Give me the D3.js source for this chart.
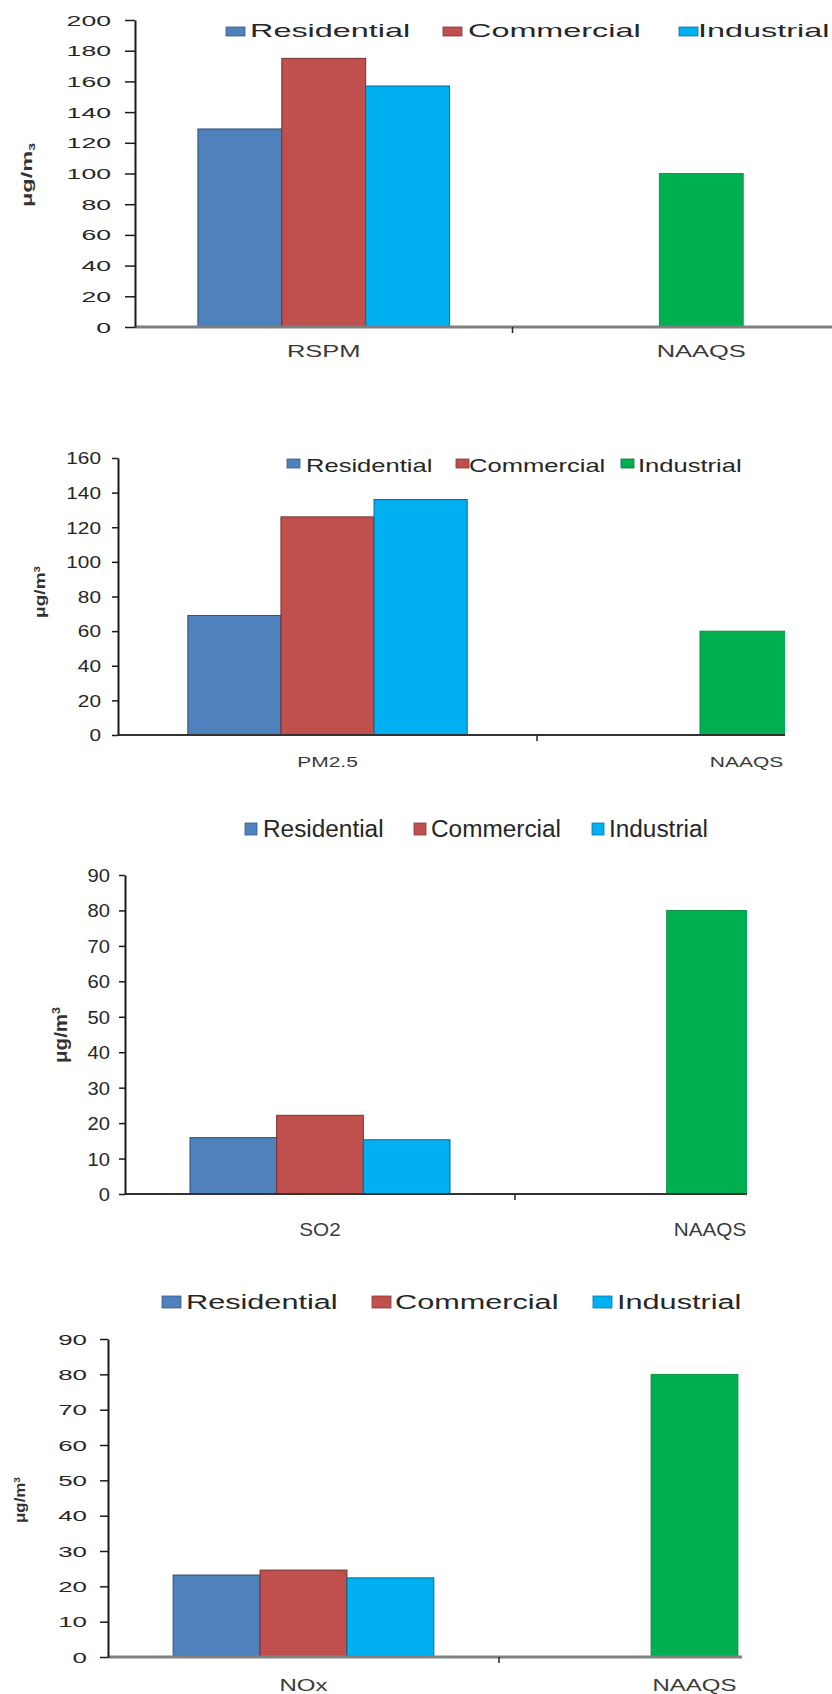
<!DOCTYPE html>
<html>
<head>
<meta charset="utf-8">
<script src="https://cdn.jsdelivr.net/npm/d3@7"></script>
<style>
  html, body { margin: 0; padding: 0; background: #fff; }
  svg { display: block; }
  text { font-family: "Liberation Sans", Arial, sans-serif; }
</style>
</head>
<body>
<svg id="chart" width="832" height="1694"></svg>
<script>
// ---------------- DATA ----------------
const series = ["Residential", "Commercial", "Industrial"];
const pollutants = ["RSPM", "PM2.5", "SO2", "NOx"];
const standardLabel = "NAAQS";
const residential = [129, 69, 15.9, 23.2];
const commercial  = [175, 126, 22.2, 24.6];
const industrial  = [157, 136, 15.3, 22.4];
const naaqs       = [100, 60, 80, 80];
const yMax  = [200, 160, 90, 90];
const yStep = [20, 20, 10, 10];
const unitBase = "μg/m";
const unitExp = "3";
const unitExpPos = ["sub", "sup", "sup", "sup"];

// ---------------- STYLE / LAYOUT ----------------
const seriesColors = ["#4f81bd", "#c0504d", "#00b0f0"];
const naaqsColor = "#00b050";
// legend swatch colours per chart (chart 2 shows a green Industrial swatch)
const legendSwatches = [
  ["#4f81bd", "#c0504d", "#00b0f0"],
  ["#4f81bd", "#c0504d", "#00b050"],
  ["#4f81bd", "#c0504d", "#00b0f0"],
  ["#4f81bd", "#c0504d", "#00b0f0"]
];

const layouts = [
  { axisX: 135, divider: 512.5, y0: 327, yTop: 20, clipRight: 832,
    tickLen: 10, tickFont: 14, tickSx: 1.9, tickRight: 111,
    baseColor: "#7f7f7f", baseW: 3, axisW: 2,
    leg: { base: 37, font: 18, sx: 1.8, sqY: 27, sqW: 19, sqH: 9,
           items: [[226, 250], [443, 468], [679, 698]] },
    xl: { base: 357, font: 17, sx: 1.5 },
    yl: { cx: 27, cy: 175, font: 15, len: 64 } },
  { axisX: 118, divider: 537, y0: 735, yTop: 458, clipRight: 785,
    tickLen: 6, tickFont: 16, tickSx: 1.3, tickRight: 101,
    baseColor: "#333", baseW: 2, axisW: 2,
    leg: { base: 472, font: 18, sx: 1.42, sqY: 459, sqW: 13, sqH: 9,
           items: [[287, 306], [456, 469], [621, 638]] },
    xl: { base: 767, font: 14, sx: 1.5 },
    yl: { cx: 40, cy: 592, font: 15, len: 52 } },
  { axisX: 125, divider: 515, y0: 1194, yTop: 875, clipRight: 747,
    tickLen: 6, tickFont: 18, tickSx: 1.12, tickRight: 110,
    baseColor: "#333", baseW: 2, axisW: 2,
    leg: { base: 837, font: 23, sx: 1.06, sqY: 823, sqW: 12, sqH: 12,
           items: [[245, 263], [414, 431], [592, 609]] },
    xl: { base: 1236, font: 18, sx: 1.15 },
    yl: { cx: 60, cy: 1035, font: 19, len: 56 } },
  { axisX: 108, divider: 499, y0: 1657, yTop: 1339, clipRight: 742,
    tickLen: 8, tickFont: 14, tickSx: 1.85, tickRight: 87,
    baseColor: "#808080", baseW: 3, axisW: 2,
    leg: { base: 1309, font: 21, sx: 1.46, sqY: 1296, sqW: 19, sqH: 12,
           items: [[162, 186], [372, 395], [593, 617]] },
    xl: { base: 1691, font: 16, sx: 1.5 },
    yl: { cx: 20, cy: 1500, font: 15, len: 46 } }
];

// ---------------- DRAW ----------------
const svg = d3.select("#chart");
svg.append("rect").attr("width", 832).attr("height", 1694).attr("fill", "#fff");
const defs = svg.append("defs");

pollutants.forEach((pol, i) => {
  const L = layouts[i];
  const g = svg.append("g");
  const clipId = "clip" + i;
  defs.append("clipPath").attr("id", clipId)
    .append("rect").attr("x", 0).attr("y", L.yTop - 40)
    .attr("width", L.clipRight).attr("height", L.y0 - L.yTop + 80);

  const catW = L.divider - L.axisX;
  const xCat = d3.scaleBand().domain([pol, standardLabel])
    .range([L.axisX, L.axisX + 2 * catW]).padding(0);
  const xSer = d3.scaleBand().domain(series)
    .range([0, xCat.bandwidth()]).paddingInner(0).paddingOuter(0.75);
  const y = d3.scaleLinear().domain([0, yMax[i]]).range([L.y0, L.yTop]);

  const vals = [residential[i], commercial[i], industrial[i]];
  const plot = g.append("g").attr("clip-path", `url(#${clipId})`);

  // bars
  plot.selectAll("rect.bar").data(series).enter().append("rect")
    .attr("class", "bar")
    .attr("x", s => xCat(pol) + xSer(s))
    .attr("width", xSer.bandwidth())
    .attr("y", (s, k) => y(vals[k]))
    .attr("height", (s, k) => y(0) - y(vals[k]))
    .attr("fill", (s, k) => seriesColors[k])
    .attr("stroke", (s, k) => d3.color(seriesColors[k]).darker(1.4))
    .attr("stroke-width", 1);

  plot.append("rect")
    .attr("x", xCat(standardLabel) + xCat.bandwidth() / 2 - xSer.bandwidth() / 2)
    .attr("width", xSer.bandwidth())
    .attr("y", y(naaqs[i]))
    .attr("height", y(0) - y(naaqs[i]))
    .attr("fill", naaqsColor)
    .attr("stroke", d3.color(naaqsColor).darker(0.8))
    .attr("stroke-width", 0.8);

  // baseline (category axis)
  plot.append("line")
    .attr("x1", L.axisX).attr("x2", L.clipRight)
    .attr("y1", y(0)).attr("y2", y(0))
    .attr("stroke", L.baseColor).attr("stroke-width", L.baseW);
  // divider tick between categories
  plot.append("line")
    .attr("x1", xCat(standardLabel)).attr("x2", xCat(standardLabel))
    .attr("y1", y(0)).attr("y2", y(0) + 6)
    .attr("stroke", "#222").attr("stroke-width", 1.5);

  // y axis
  const ticks = d3.range(0, yMax[i] + yStep[i] / 2, yStep[i]);
  const ax = g.append("g").attr("transform", `translate(${L.axisX},0)`)
    .call(d3.axisLeft(y).tickValues(ticks).tickSize(L.tickLen).tickSizeOuter(0).tickFormat(d3.format("d")));
  ax.select(".domain").attr("stroke", "#1a1a1a").attr("stroke-width", L.axisW);
  ax.selectAll(".tick line").attr("stroke", "#1a1a1a").attr("stroke-width", 1.5);
  ax.selectAll(".tick text")
    .attr("x", 0).attr("dy", "0.36em")
    .attr("transform", `translate(${L.tickRight - L.axisX},0) scale(${L.tickSx},1)`)
    .attr("text-anchor", "end")
    .attr("font-size", L.tickFont)
    .attr("font-family", "'Liberation Sans', Arial, sans-serif")
    .attr("fill", "#262626");

  // category labels
  g.selectAll("text.cat").data([pol, standardLabel]).enter().append("text")
    .attr("class", "cat")
    .attr("transform", d => `translate(${xCat(d) + xCat.bandwidth() / 2},${L.xl.base}) scale(${L.xl.sx},1)`)
    .attr("text-anchor", "middle")
    .attr("font-size", L.xl.font)
    .attr("fill", "#3a3a3a")
    .text(d => d);

  // legend
  series.forEach((s, k) => {
    const it = L.leg.items[k];
    g.append("rect")
      .attr("x", it[0]).attr("y", L.leg.sqY)
      .attr("width", L.leg.sqW).attr("height", L.leg.sqH)
      .attr("fill", legendSwatches[i][k])
      .attr("stroke", d3.color(legendSwatches[i][k]).darker(1))
      .attr("stroke-width", 0.8);
    g.append("text")
      .attr("transform", `translate(${it[1]},${L.leg.base}) scale(${L.leg.sx},1)`)
      .attr("font-size", L.leg.font)
      .attr("fill", "#262626")
      .text(s);
  });

  // y unit label
  const yl = g.append("text")
    .attr("transform", `translate(${L.yl.cx},${L.yl.cy}) rotate(-90)`)
    .attr("text-anchor", "middle")
    .attr("dy", "0.35em")
    .attr("font-size", L.yl.font)
    .attr("font-weight", "bold")
    .attr("fill", "#333")
    .attr("textLength", L.yl.len)
    .attr("lengthAdjust", "spacingAndGlyphs");
  yl.append("tspan").text(unitBase);
  yl.append("tspan")
    .attr("font-size", L.yl.font * 0.6)
    .attr("dy", unitExpPos[i] === "sub" ? "0.35em" : "-0.6em")
    .text(unitExp);
});
</script>
</body>
</html>
